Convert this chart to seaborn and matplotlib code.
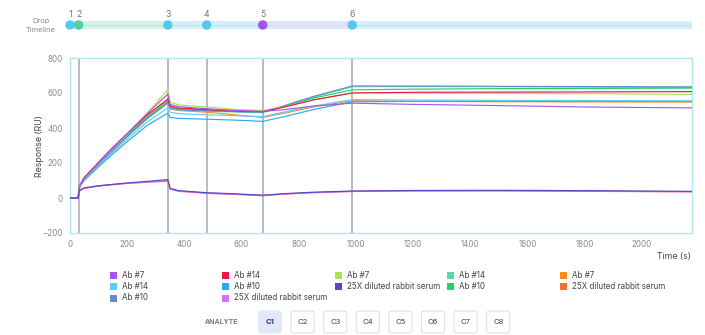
import matplotlib
matplotlib.use("Agg")
import matplotlib.pyplot as plt
from matplotlib.patches import Rectangle, FancyBboxPatch
import pandas as pd
import seaborn as sns

# ---- sensorgram data -------------------------------------------------------
time_s = [0, 28, 34, 50, 100, 150, 200, 270, 342, 350, 380, 480, 580, 674,
          750, 850, 987, 1200, 1500, 1800, 2175]

ab7_purple = [0, 0, 70, 114, 202, 288, 368, 482, 595, 535, 522, 510, 500, 495,
              505, 525, 542, 535, 528, 520, 515]
ab14_cyan = [0, 0, 66, 104, 185, 262, 335, 435, 515, 490, 482, 475, 470, 465,
             492, 525, 562, 560, 558, 557, 555]
ab10_steel = [0, 0, 69, 110, 194, 275, 352, 455, 545, 515, 505, 498, 494, 490,
              528, 580, 640, 640, 638, 637, 635]
ab14_red = [0, 0, 72, 118, 205, 290, 368, 475, 565, 525, 514, 505, 497, 494,
            520, 560, 600, 604, 605, 606, 608]
ab10_blue = [0, 0, 65, 100, 178, 252, 322, 415, 485, 460, 455, 450, 445, 438,
             465, 505, 550, 552, 553, 553, 552]
serum_pink = [0, 0, 42, 55, 68, 76, 83, 90, 95, 50, 38, 26, 20, 13,
              22, 30, 37, 40, 40, 38, 35]
ab7_lime = [0, 0, 72, 115, 200, 285, 365, 485, 620, 548, 532, 520, 506, 500,
            522, 560, 602, 600, 598, 596, 592]
serum_indigo = [0, 0, 45, 58, 70, 78, 86, 95, 105, 55, 42, 30, 24, 16,
                25, 33, 40, 43, 44, 42, 38]
ab14_aqua = [0, 0, 68, 108, 190, 270, 348, 452, 540, 512, 502, 496, 491, 488,
             525, 575, 636, 637, 636, 634, 632]
ab10_green = [0, 0, 70, 112, 196, 278, 355, 460, 552, 520, 510, 502, 495, 492,
              525, 570, 618, 622, 625, 626, 628]
ab7_orange = [0, 0, 70, 112, 198, 280, 358, 468, 560, 508, 500, 490, 475, 460,
              485, 520, 556, 552, 550, 549, 548]
serum_coral = [0, 0, 44, 56, 69, 77, 84, 92, 98, 52, 40, 28, 22, 14,
               23, 31, 38, 41, 42, 40, 36]

series_labels = ["Ab #7", "Ab #14", "Ab #10", "Ab #14", "Ab #10",
                 "25X diluted rabbit serum", "Ab #7", "25X diluted rabbit serum",
                 "Ab #14", "Ab #10", "Ab #7", "25X diluted rabbit serum"]
series_colors = ["#a855f7", "#5bcff2", "#6a8bc4", "#f5124c", "#2aaaf5",
                 "#d86ef2", "#a6e84c", "#5548c8", "#5fd3ac", "#14db6a",
                 "#ff8a1f", "#ff6b35"]
series_values = [ab7_purple, ab14_cyan, ab10_steel, ab14_red, ab10_blue,
                 serum_pink, ab7_lime, serum_indigo, ab14_aqua, ab10_green,
                 ab7_orange, serum_coral]
# stacking order of the curves, first drawn at the bottom
draw_order = [11, 10, 4, 1, 8, 9, 2, 6, 3, 0, 5, 7]

drop_times = [0, 30, 342, 478, 674, 987]
drop_colors = ["#56c8f0", "#4fcfa0", "#56c8f0", "#56c8f0", "#9b55f0", "#56c8f0"]
band_colors = ["#d6f3e8", "#d6f3e8", "#d6eff9", "#d6eff9", "#e4e2fa", "#d6eff9"]

x_ticks = [0, 200, 400, 600, 800, 1000, 1200, 1400, 1600, 1800, 2000]
y_ticks = [-200, 0, 200, 400, 600, 800]
analytes = ["C1", "C2", "C3", "C4", "C5", "C6", "C7", "C8"]

# ---- figure ---------------------------------------------------------------
sns.set_theme(style="white")
plt.rcParams["font.family"] = ["Inter", "DejaVu Sans"]

W, H = 705, 335
fig = plt.figure(figsize=(W / 100, H / 100), dpi=100)


def fx(px):
    return px / W


def fy(px):
    return 1 - px / H


X_MAX = 2175
ax = fig.add_axes([fx(70), fy(233), fx(692 - 70), (233 - 58) / H])

rows = []
for i, vals in enumerate(series_values):
    for t, v in zip(time_s, vals):
        rows.append({"time": t, "response": v, "key": str(i)})
df = pd.DataFrame(rows)
palette = {str(i): c for i, c in enumerate(series_colors)}

for t in drop_times[1:]:
    ax.axvline(t, color="#a9b0be", lw=1.2, zorder=1)

sns.lineplot(data=df, x="time", y="response", hue="key", palette=palette,
             hue_order=[str(i) for i in draw_order],
             estimator=None, sort=False, legend=False, linewidth=0.85, ax=ax,
             zorder=3)

ax.set_xlim(0, X_MAX)
ax.set_ylim(-200, 800)
ax.set_xticks(x_ticks)
ax.set_yticks(y_ticks)
ax.tick_params(length=0, labelsize=5.8, labelcolor="#8a8a8a", pad=5)
for s in ax.spines.values():
    s.set_color("#b5e4f5")
    s.set_linewidth(1.0)
ax.set_xlabel("")
ax.set_ylabel("")
fig.text(fx(40), fy(146), "Response (RU)", rotation=90, ha="center",
         va="center", fontsize=6.3, color="#444444")
fig.text(fx(691), fy(257), "Time (s)", ha="right", va="center",
         fontsize=6.3, color="#444444")

# ---- drop timeline ----------------------------------------------------------
axt = fig.add_axes([fx(70), fy(35), fx(692 - 70), 20 / H])
axt.set_xlim(0, X_MAX)
axt.set_ylim(-1, 1)
axt.axis("off")
bounds = drop_times + [X_MAX]
for i in range(len(drop_times)):
    axt.add_patch(Rectangle((bounds[i], -0.38), bounds[i + 1] - bounds[i], 0.76,
                            color=band_colors[i], lw=0, zorder=1))
axt.plot([0, X_MAX], [0, 0], color="#c4e3f0", lw=0.7, zorder=2)
axt.scatter(drop_times, [0] * len(drop_times), s=46, c=drop_colors,
            zorder=3, linewidths=0, clip_on=False)
for i, t in enumerate(drop_times):
    axt.annotate(str(i + 1), (t, 0), xytext=(0, 7.5), textcoords="offset points",
                 ha="center", va="center", fontsize=6.3, color="#777777",
                 annotation_clip=False)
fig.text(fx(41), fy(21.5), "Drop", ha="center", va="center", fontsize=5.3,
         color="#8a8a8a")
fig.text(fx(41), fy(30), "Timeline", ha="center", va="center", fontsize=5.3,
         color="#8a8a8a")

# ---- legend ----------------------------------------------------------------
col_x = [110, 222, 335, 447, 560]
row_y = [275, 286.5, 298]
rows_per_col = [3, 3, 2, 2, 2]
idx = 0
for c, nrow in enumerate(rows_per_col):
    for r in range(nrow):
        px, py = col_x[c], row_y[r]
        fig.add_artist(Rectangle((fx(px), fy(py + 3.5)), fx(7), 7 / H,
                                 color=series_colors[idx], lw=0,
                                 transform=fig.transFigure))
        fig.text(fx(px + 12), fy(py), series_labels[idx], ha="left",
                 va="center", fontsize=5.8, color="#444444")
        idx += 1

# ---- analyte selector -------------------------------------------------------
fig.text(fx(222), fy(322), "ANALYTE", ha="center", va="center", fontsize=5.0,
         color="#7a7a8a", fontweight="bold")
for i, name in enumerate(analytes):
    cx = 270 + i * 32.6
    active = i == 0
    box = FancyBboxPatch((fx(cx - 11.5), fy(333)), fx(23), 22 / H,
                         boxstyle="round,pad=0,rounding_size=0.006",
                         transform=fig.transFigure,
                         facecolor="#e3e7fb" if active else "white",
                         edgecolor="#e3e7fb" if active else "#dde1e8",
                         lw=0.8)
    fig.add_artist(box)
    fig.text(fx(cx), fy(322), name, ha="center", va="center", fontsize=5.5,
             color="#3a3a4a", fontweight="bold" if active else "normal")

fig.savefig("out.png", dpi=100)
